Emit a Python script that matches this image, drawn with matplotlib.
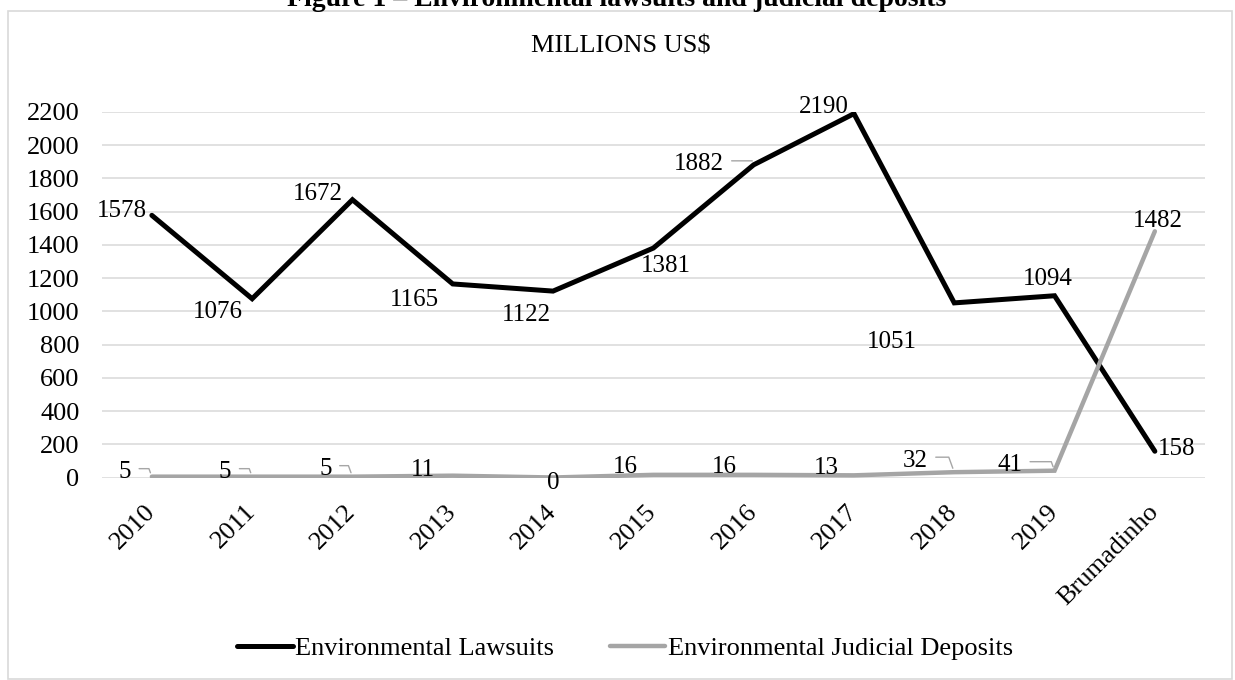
import matplotlib
matplotlib.use("Agg")
import matplotlib.pyplot as plt
from matplotlib.patches import Rectangle

categories = ["2010", "2011", "2012", "2013", "2014", "2015", "2016", "2017", "2018", "2019", "Brumadinho"]
lawsuits = [1578, 1076, 1672, 1165, 1122, 1381, 1882, 2190, 1051, 1094, 158]
deposits = [5, 5, 5, 11, 0, 16, 16, 13, 32, 41, 1482]
y_ticks = [0, 200, 400, 600, 800, 1000, 1200, 1400, 1600, 1800, 2000, 2200]

# label offsets in pixels (dx, dy up) of label centre from the point, and leader flags
law_off = [(-30, 7), (-34, -11), (-35, 8), (-38, -14), (-27, -21), (13, -15),
           (-55, 3), (-30, 9), (-62, -37), (-7, 19), (22, 5)]
law_lead = [False, False, False, False, False, False, True, False, False, False, False]
dep_off = [(-27, 7), (-27, 7), (-27, 10), (-30, 8), (0, -3), (-28, 10),
           (-29, 10), (-28, 10), (-39, 14), (-45, 8), (3, 13)]
dep_lead = [True, True, True, False, False, False, False, False, True, True, False]

plt.rcParams['font.family'] = ['Liberation Serif', 'DejaVu Serif']

W, H = 1235, 680
fig = plt.figure(figsize=(W / 100, H / 100), dpi=100)
ax = fig.add_axes([101.7 / W, 1 - 477.5 / H, (1205 - 101.7) / W, (477.5 - 112) / H])

x = list(range(len(categories)))
BLACK = "#000000"
GRAY = "#A5A5A5"
ax.plot(x, lawsuits, color=BLACK, lw=3.6, solid_capstyle='round', solid_joinstyle='miter',
        label="Environmental Lawsuits", zorder=3)
ax.plot(x, deposits, color=GRAY, lw=3.2, solid_capstyle='round', solid_joinstyle='miter',
        label="Environmental Judicial Deposits", zorder=3)

ax.set_xlim(-0.5, len(categories) - 0.5)
ax.set_ylim(0, 2200)
ax.set_yticks(y_ticks)
ax.set_yticklabels([str(t) for t in y_ticks], fontsize=19)
ax.set_xticks(x)
ax.set_xticklabels(categories, fontsize=19, rotation=45, ha='right', va='center',
                   rotation_mode='anchor')
ax.tick_params(axis='both', length=0)
ax.tick_params(axis='y', pad=16)
ax.tick_params(axis='x', pad=22)
ax.grid(axis='y', color='#D9D9D9', lw=1.1, zorder=0)
ax.set_axisbelow(True)
for s in ax.spines.values():
    s.set_visible(False)

DIGIT_HALF = 8.5
DIGIT_W = 12.5


def add_labels(vals, offs, leads):
    for i, (v, (dx, dy), lead) in enumerate(zip(vals, offs, leads)):
        ax.annotate(str(v), xy=(i, v), xytext=(dx, dy - DIGIT_HALF), textcoords='offset pixels',
                    ha='center', va='baseline', fontsize=18, color='#000000', zorder=4)
        if lead:
            start = dx + DIGIT_W * len(str(v)) / 2 + 8
            ax.annotate("", xy=(i, v), xytext=(start, dy + 1), textcoords='offset pixels',
                        arrowprops=dict(arrowstyle='-', color='#A6A6A6', lw=1.0,
                                        shrinkA=0, shrinkB=3,
                                        connectionstyle='angle,angleA=0,angleB=110,rad=0'),
                        zorder=4)


add_labels(lawsuits, law_off, law_lead)
add_labels(deposits, dep_off, dep_lead)

fig.text(621 / W, 1 - 47 / H, "MILLIONS US$", ha='center', va='center', fontsize=19)
fig.text(617 / W, 1 - 6 / H, "Figure 1 – Environmental lawsuits and judicial deposits",
         ha='center', va='baseline', fontsize=20, fontweight='bold')

leg = fig.legend(loc='center', bbox_to_anchor=(625 / W, 1 - 648 / H), ncol=2, frameon=False,
                 fontsize=19, handlelength=2.1, handletextpad=0.1, columnspacing=2.1)

fig.patches.append(Rectangle((8 / W, 1 / H), (1232 - 8) / W, (679 - 11) / H,
                             transform=fig.transFigure, fill=False, edgecolor='#D9D9D9', lw=1.2))

fig.savefig("out.png", dpi=100)
